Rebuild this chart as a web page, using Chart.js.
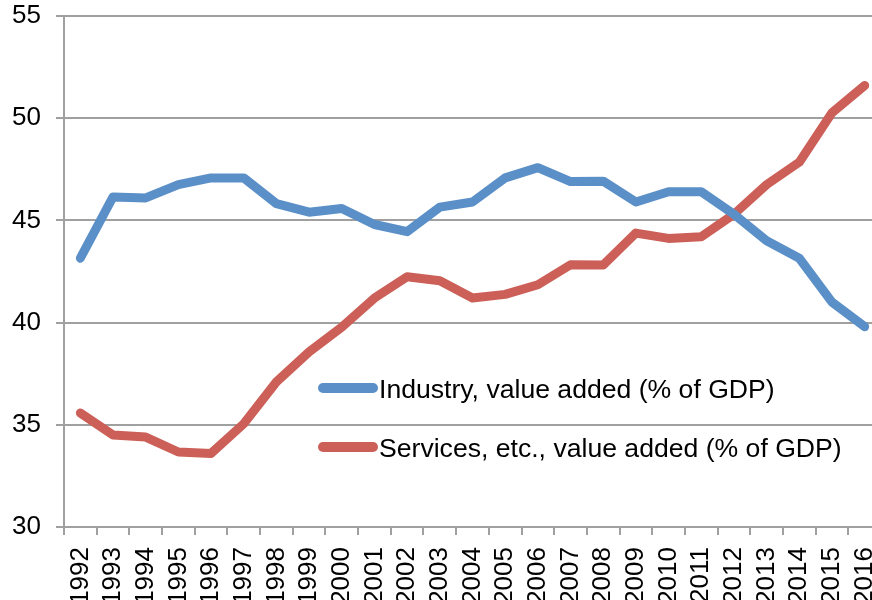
<!DOCTYPE html>
<html>
<head>
<meta charset="utf-8">
<script src="https://cdn.jsdelivr.net/npm/chart.js@4"></script>
<style>
  html, body { margin: 0; padding: 0; background: #fff; overflow: hidden; }
  #wrap { width: 882px; height: 600px; }
</style>
</head>
<body>
<div id="wrap"><canvas id="myChart" width="882" height="600"></canvas></div>
<script>
const years = ['1992','1993','1994','1995','1996','1997','1998','1999','2000','2001','2002','2003','2004',
  '2005','2006','2007','2008','2009','2010','2011','2012','2013','2014','2015','2016'];

const industry = [43.15, 46.15, 46.1, 46.75, 47.08, 47.08, 45.82, 45.4, 45.58, 44.8, 44.45, 45.65, 45.9,
  47.08, 47.58, 46.9, 46.92, 45.9, 46.4, 46.4, 45.3, 44.0, 43.15, 41.0, 39.8];

const services = [35.58, 34.5, 34.4, 33.67, 33.6, 35.05, 37.1, 38.57, 39.78, 41.2, 42.24, 42.05, 41.2,
  41.38, 41.85, 42.83, 42.82, 44.38, 44.12, 44.2, 45.3, 46.75, 47.85, 50.27, 51.6];

const yTicks = [30, 35, 40, 45, 50, 55];

const FONT = 'Liberation Sans, Arial, sans-serif';
const blue = '#5b8fc7';
const red = '#cc6058';
const gridGray = '#a0a0a0';

// legend drawn inside the plot, like the original
const insideLegend = {
  id: 'insideLegend',
  afterDatasetsDraw(chart) {
    const c = chart.ctx;
    const rows = [
      { y: 388, ds: chart.data.datasets[0] },
      { y: 447, ds: chart.data.datasets[1] }
    ];
    c.save();
    rows.forEach(r => {
      c.strokeStyle = r.ds.borderColor;
      c.lineWidth = 10;
      c.lineCap = 'round';
      c.beginPath();
      c.moveTo(323, r.y);
      c.lineTo(373, r.y);
      c.stroke();
      c.fillStyle = '#000';
      c.font = '26.6px ' + FONT;
      c.textBaseline = 'middle';
      c.textAlign = 'left';
      c.fillText(r.ds.label, 379, r.y + 3);
    });
    c.restore();
  }
};

const ctx = document.getElementById('myChart');
const grafico = new Chart(ctx, {
  type: 'line',
  data: {
    labels: years,
    datasets: [{
      label: 'Industry, value added (% of GDP)',
      data: industry,
      borderColor: blue,
      borderWidth: 9,
      borderCapStyle: 'round',
      borderJoinStyle: 'round',
      pointRadius: 0,
      tension: 0
    }, {
      label: 'Services, etc., value added (% of GDP)',
      data: services,
      borderColor: red,
      borderWidth: 9,
      borderCapStyle: 'round',
      borderJoinStyle: 'round',
      pointRadius: 0,
      tension: 0
    }]
  },
  options: {
    responsive: false,
    animation: false,
    layout: { padding: { top: 16, right: 1, left: 0, bottom: 0 } },
    plugins: {
      legend: { display: false },
      tooltip: { enabled: false }
    },
    scales: {
      x: {
        offset: true,
        afterFit(scale) {
          scale.height = 73;
          scale.paddingLeft = 0;
          scale.paddingRight = 0;
        },
        grid: {
          offset: true,
          drawOnChartArea: false,
          drawTicks: true,
          tickLength: 8,
          color: gridGray,
          lineWidth: 2
        },
        border: { color: gridGray, width: 2 },
        ticks: {
          autoSkip: false,
          minRotation: 90,
          maxRotation: 90,
          padding: 12,
          color: '#000',
          font: { family: FONT, size: 26 }
        }
      },
      y: {
        min: 30,
        max: 55,
        afterFit(scale) {
          scale.width = 64;
          scale.paddingTop = 0;
          scale.paddingBottom = 0;
        },
        afterBuildTicks(scale) { scale.ticks = yTicks.map(v => ({ value: v })); },
        grid: {
          color: gridGray,
          lineWidth: 2,
          tickLength: 8
        },
        border: { color: gridGray, width: 2 },
        ticks: {
          padding: 15,
          color: '#000',
          font: { family: FONT, size: 26 }
        }
      }
    }
  },
  plugins: [insideLegend]
});
</script>
</body>
</html>
